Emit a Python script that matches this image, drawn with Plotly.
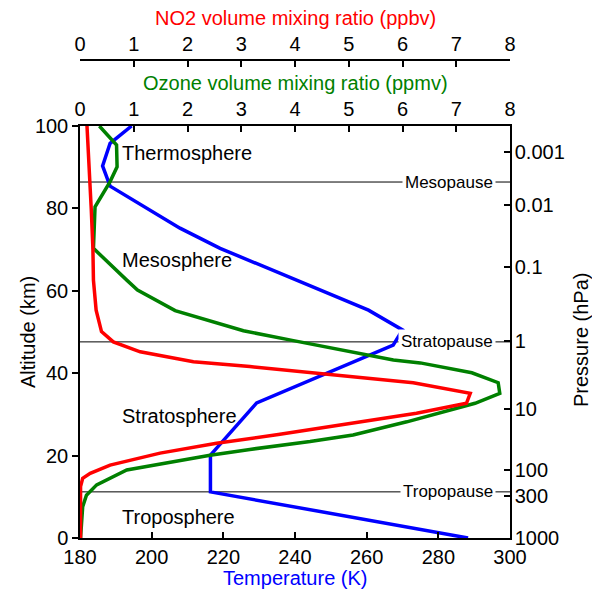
import plotly.graph_objects as go

# ---------------- data ----------------
temp_alt = [0, 11.2, 20.1, 32.8, 46.8, 50.5, 55.3, 60, 66.3, 70.3, 75.2, 85.4, 90.3, 95.8, 100]
temp_K = [288.3, 216.4, 216.4, 229.3, 267.4, 270.0, 260.5, 247.6, 230.2, 219.1, 207.9, 188.4, 186.3, 188.4, 194.4]

o3_alt = [0, 5, 7.6, 10.4, 12.9, 16.5, 20.1, 21.5, 23.4, 25, 28.2, 32.7, 35.1, 37.7, 40.1, 42.5, 43.2,
          47.9, 50.3, 55.2, 60.2, 62.6, 70.3, 80.4, 86.5, 90.1, 95.4, 100]
o3_ppmv = [0.01, 0.03, 0.05, 0.12, 0.31, 0.87, 2.42, 3.16, 4.28, 5.08, 6.08, 7.35, 7.81, 7.78, 7.29, 6.33, 5.83,
           3.97, 3.04, 1.77, 1.07, 0.87, 0.25, 0.28, 0.56, 0.69, 0.68, 0.36]

no2_alt = [0, 8, 12.5, 14.5, 15.7, 17.7, 20.6, 23, 25.1, 30.3, 32.7, 35.1, 37.7, 41.6, 42.8, 45.2,
           47.6, 50.1, 55.3, 62.6, 70.3, 79.6, 100]
no2_ppbv = [0.01, 0.01, 0.01, 0.05, 0.19, 0.56, 1.49, 2.54, 3.69, 6.26, 7.19, 7.26, 6.2, 3.16, 2.11, 1.12,
            0.62, 0.40, 0.30, 0.25, 0.24, 0.21, 0.13]

temp_ticks = [180, 200, 220, 240, 260, 280, 300]
mix_ticks = [0, 1, 2, 3, 4, 5, 6, 7, 8]
alt_ticks = [0, 20, 40, 60, 80, 100]

pressure_labels = ["0.001", "0.01", "0.1", "1", "10", "100", "300", "1000"]
pressure_alt = [93.7, 80.8, 65.7, 47.9, 31.3, 16.5, 10.2, 0]

boundary_names = ["Mesopause", "Stratopause", "Tropopause"]
boundary_alt = [86.4, 47.6, 11.2]

layer_names = ["Thermosphere", "Mesosphere", "Stratosphere", "Troposphere"]
layer_alt = [93.5, 67.5, 29.6, 5.2]

# ---------------- figure ----------------
FONT = "Liberation Sans, Arial, sans-serif"
RED, GREEN, BLUE = "#ff0000", "#008000", "#0000ff"

W, H = 592, 590
ML, MR, MT, MB = 80, 82, 40, 52
plot_h = H - MT - MB
plot_w = W - ML - MR


def py(px):  # pixel y -> paper y
    return (H - MB - px) / plot_h


def px_(x):  # pixel x -> paper x
    return (x - ML) / plot_w


fig = go.Figure()

fig.add_trace(go.Scatter(x=temp_K, y=temp_alt, mode="lines", line=dict(color=BLUE, width=3.5),
                         xaxis="x", yaxis="y", hoverinfo="skip"))
fig.add_trace(go.Scatter(x=[180, 180], y=[0, 0], mode="lines", line=dict(width=0),
                         xaxis="x", yaxis="y2", hoverinfo="skip", showlegend=False))
fig.add_trace(go.Scatter(x=o3_ppmv, y=o3_alt, mode="lines", line=dict(color=GREEN, width=3.5),
                         xaxis="x2", yaxis="y", hoverinfo="skip"))
fig.add_trace(go.Scatter(x=no2_ppbv, y=no2_alt, mode="lines", line=dict(color=RED, width=3.5),
                         xaxis="x3", yaxis="y", hoverinfo="skip"))

axis_common = dict(showline=True, linecolor="black", linewidth=1.5, showgrid=False, zeroline=False,
                   tickcolor="black", tickwidth=1.5, ticklen=6,
                   tickfont=dict(family=FONT, size=20, color="black"))

ydom_top = py(126)

fig.update_layout(
    width=W, height=H,
    margin=dict(l=ML, r=MR, t=MT, b=MB, pad=0),
    paper_bgcolor="white", plot_bgcolor="white",
    showlegend=False,
    xaxis=dict(range=[180, 300], tickvals=temp_ticks, ticks="inside", domain=[0, 1], anchor="y",
               ticklabelstandoff=0, **axis_common),
    xaxis2=dict(range=[0, 8], tickvals=mix_ticks, ticks="inside", overlaying="x", side="top", anchor="y",
                **axis_common),
    xaxis3=dict(range=[0, 8], tickvals=mix_ticks, ticks="inside", overlaying="x", side="top", anchor="free",
                position=py(60), **axis_common),
    yaxis=dict(range=[0, 100], tickvals=alt_ticks, ticks="outside", domain=[0, ydom_top], anchor="x",
               **axis_common),
    yaxis2=dict(range=[0, 100], tickvals=pressure_alt, ticktext=pressure_labels, ticks="inside",
                overlaying="y", side="right", anchor="x", ticklabelstandoff=-1, **axis_common),
)

# boundary lines and labels
for name, a in zip(boundary_names, boundary_alt):
    fig.add_shape(type="line", xref="x", yref="y", x0=180, x1=300, y0=a, y1=a,
                  line=dict(color="black", width=1), layer="below")
    fig.add_annotation(xref="paper", yref="y", x=px_(496), y=a, xanchor="right", yanchor="middle",
                       text=name, showarrow=False, bgcolor="white", borderpad=2,
                       font=dict(family=FONT, size=17, color="black"))

# layer labels
for name, a in zip(layer_names, layer_alt):
    fig.add_annotation(xref="paper", yref="y", x=px_(120), y=a, xanchor="left", yanchor="middle",
                       text=name, showarrow=False,
                       font=dict(family=FONT, size=20, color="black"))

# axis titles
fig.add_annotation(xref="paper", yref="paper", x=0.5, y=py(18), text="NO2 volume mixing ratio (ppbv)",
                   showarrow=False, xanchor="center", yanchor="middle",
                   font=dict(family=FONT, size=20, color=RED))
fig.add_annotation(xref="paper", yref="paper", x=0.5, y=py(83), text="Ozone volume mixing ratio (ppmv)",
                   showarrow=False, xanchor="center", yanchor="middle",
                   font=dict(family=FONT, size=20, color=GREEN))
fig.add_annotation(xref="paper", yref="paper", x=px_(295), y=py(578), text="Temperature (K)",
                   showarrow=False, xanchor="center", yanchor="middle",
                   font=dict(family=FONT, size=20, color=BLUE))
fig.add_annotation(xref="paper", yref="paper", x=px_(28), y=py(332), text="Altitude (km)",
                   showarrow=False, xanchor="center", yanchor="middle", textangle=-90,
                   font=dict(family=FONT, size=20, color="black"))
fig.add_annotation(xref="paper", yref="paper", x=px_(581), y=py(340), text="Pressure (hPa)",
                   showarrow=False, xanchor="center", yanchor="middle", textangle=-90,
                   font=dict(family=FONT, size=20, color="black"))

fig.write_html("out.html")
